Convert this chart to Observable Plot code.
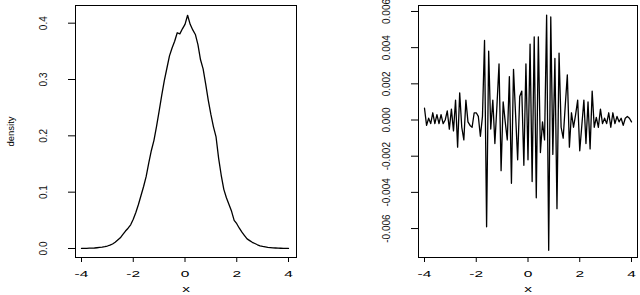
<!DOCTYPE html>
<html>
<head>
<meta charset="utf-8">
<script src="https://cdn.jsdelivr.net/npm/d3@7"></script>
<script src="https://cdn.jsdelivr.net/npm/@observablehq/plot@0.6"></script>
<style>
  html, body { margin: 0; padding: 0; background: #fff; }
  #wrap { display: flex; width: 640px; height: 295px; overflow: hidden; }
</style>
</head>
<body>
<div id="wrap"></div>
<script>
// ---- data ----
const densityX = [-4,-3.9,-3.8,-3.7,-3.6,-3.5,-3.4,-3.3,-3.2,-3.1,-3,-2.9,-2.8,-2.7,-2.6,-2.5,-2.4,-2.3,-2.2,-2.1,-2,-1.9,-1.8,-1.7,-1.6,-1.5,-1.4,-1.3,-1.2,-1.1,-1,-0.9,-0.8,-0.7,-0.6,-0.5,-0.4,-0.3,-0.2,-0.1,0,0.1,0.2,0.3,0.4,0.5,0.6,0.7,0.8,0.9,1,1.1,1.2,1.3,1.4,1.5,1.6,1.7,1.8,1.9,2,2.1,2.2,2.3,2.4,2.5,2.6,2.7,2.8,2.9,3,3.1,3.2,3.3,3.4,3.5,3.6,3.7,3.8,3.9,4];
const densityY = [0.0002,0.0002,0.0003,0.0005,0.0007,0.0009,0.0013,0.0018,0.0024,0.0032,0.0044,0.0060,0.0080,0.0110,0.0150,0.0190,0.0250,0.0310,0.0360,0.0420,0.0520,0.0640,0.0780,0.0940,0.1100,0.1280,0.1520,0.1740,0.1920,0.2170,0.2440,0.2720,0.2980,0.3200,0.3420,0.3560,0.3680,0.3830,0.3810,0.3900,0.3980,0.4140,0.3980,0.3880,0.3800,0.3620,0.3350,0.3190,0.2920,0.2630,0.2380,0.2160,0.1980,0.1600,0.1300,0.1050,0.0900,0.0780,0.0660,0.0500,0.0440,0.0360,0.0290,0.0230,0.0170,0.0140,0.0110,0.0088,0.0066,0.0048,0.0036,0.0028,0.0021,0.0016,0.0012,0.0009,0.0006,0.0004,0.0003,0.0002,0.0001];

const diffX = [-4,-3.92,-3.84,-3.76,-3.68,-3.6,-3.52,-3.44,-3.36,-3.28,-3.2,-3.12,-3.04,-2.96,-2.88,-2.8,-2.72,-2.64,-2.56,-2.48,-2.4,-2.32,-2.24,-2.16,-2.08,-2,-1.92,-1.84,-1.76,-1.68,-1.6,-1.52,-1.44,-1.36,-1.28,-1.2,-1.12,-1.04,-0.96,-0.88,-0.8,-0.72,-0.64,-0.56,-0.48,-0.4,-0.32,-0.24,-0.16,-0.08,0,0.08,0.16,0.24,0.32,0.4,0.48,0.56,0.64,0.72,0.8,0.88,0.96,1.04,1.12,1.2,1.28,1.36,1.44,1.52,1.6,1.68,1.76,1.84,1.92,2,2.08,2.16,2.24,2.32,2.4,2.48,2.56,2.64,2.72,2.8,2.88,2.96,3.04,3.12,3.2,3.28,3.36,3.44,3.52,3.6,3.68,3.76,3.84,3.92,4];
const diffY = [0.00065,-0.0003,0.0001,-0.0002,0.0004,-0.0002,0.0003,-0.0002,0.0003,-0.0002,
  0.0000,0.0005,-0.0005,0.0006,-0.0006,0.0011,-0.0015,0.0015,-0.0004,-0.0011,
  0.0011,-0.0001,-0.0003,-0.0004,0.0004,0.0004,0.0002,-0.0009,0.0002,0.0044,
  -0.0059,0.0038,-0.0005,0.0011,-0.0013,0.0008,0.0031,-0.0028,0.0010,-0.0001,
  -0.0011,0.0024,-0.0035,0.0028,0.0003,-0.0022,0.0013,0.0016,-0.0025,0.0031,
  -0.0022,0.0042,-0.0034,0.0046,-0.0043,0.0046,-0.0018,-0.0001,-0.0011,0.0058,
  -0.0072,0.0057,-0.0019,0.0034,-0.0049,0.0037,-0.0004,-0.0010,0.0008,0.0025,
  -0.0015,0.0004,-0.0004,0.0003,0.0011,-0.0017,-0.0003,0.0011,-0.0013,0.0010,
  -0.0016,0.0016,-0.0004,0.00015,-0.0004,0.0006,-0.0002,0.0001,-0.0002,0.0004,
  -0.0004,0.0004,-0.0002,0.0002,-0.0001,0.0001,-0.0003,0.0001,0.0002,0.0001,
  -0.0001];

const xTicks = [-4, -2, 0, 2, 4];
const densityTicks = [0, 0.1, 0.2, 0.3, 0.4];
const diffTicks = [-0.006, -0.004, -0.002, 0, 0.002, 0.004, 0.006];
const xLabel = "x";
const densityLabel = "density";

const font = "'Liberation Sans', Arial, Helvetica, sans-serif";

function panel({xs, ys, yTicks, yFmt, xDomain, yDomain, marginLeft, marginRight, ylabel}) {
  const data = xs.map((x, i) => ({x, y: ys[i]}));
  const marks = [
    Plot.axisX({ticks: xTicks, tickSize: 5, tickPadding: 8, tickFormat: d => String(d), label: null}),
    Plot.axisY({ticks: yTicks, tickSize: 7, tickFormat: () => "", label: null}),
    Plot.text(yTicks, {y: d => d, frameAnchor: "left", dx: -32, rotate: -90, text: yFmt,
      textAnchor: "middle", lineAnchor: "middle", fill: "#111"}),
    Plot.text([xLabel], {frameAnchor: "bottom", dy: 32, text: d => d, lineAnchor: "middle"}),
    Plot.line(data, {x: "x", y: "y", stroke: "black", strokeWidth: 1.3}),
    Plot.frame({stroke: "black", strokeWidth: 1})
  ];
  if (ylabel) marks.push(Plot.text([ylabel], {frameAnchor: "left", dx: -64.5, rotate: -90,
    text: d => d, textAnchor: "middle", lineAnchor: "middle", fontSize: 9.5}));
  return Plot.plot({
    width: 320, height: 295,
    marginTop: 5, marginBottom: 38, marginLeft, marginRight,
    x: {domain: xDomain, label: null},
    y: {domain: yDomain, label: null},
    style: {fontFamily: font, fontSize: "10px", background: "white", color: "black"},
    marks
  });
}

// widen the horizontal labels (x ticks and x title) like the reference
function stretchHorizontal(svg) {
  svg.querySelectorAll("text").forEach(t => {
    const tr = t.getAttribute("transform") || "";
    if (tr.includes("rotate")) return;
    const g = t.closest("g");
    const lab = g ? g.getAttribute("aria-label") : "";
    const isXTick = lab === "x-axis tick label";
    const isXLabel = t.textContent === xLabel;
    if (!(isXTick || isXLabel)) return;
    const x = parseFloat(t.getAttribute("x")) || 0;
    const y = parseFloat(t.getAttribute("y")) || 0;
    t.setAttribute("transform", `${tr} translate(${x},${y}) scale(1.55,0.85) translate(${-x},${-y})`.trim());
  });
}

const fmt3 = d => (d < 0 ? "-" : "") + Math.abs(d).toFixed(3);
const fmt1 = d => d.toFixed(1);

const wrap = document.getElementById("wrap");
const left = panel({
  xs: densityX, ys: densityY, yTicks: densityTicks, yFmt: fmt1,
  xDomain: [-4.232, 4.309], yDomain: [-0.016, 0.4314],
  marginLeft: 75, marginRight: 24, ylabel: densityLabel
});
const right = panel({
  xs: diffX, ys: diffY, yTicks: diffTicks, yFmt: fmt3,
  xDomain: [-4.232, 4.232], yDomain: [-0.0076, 0.00633],
  marginLeft: 98, marginRight: 3, ylabel: null
});
wrap.appendChild(left);
wrap.appendChild(right);
stretchHorizontal(left);
stretchHorizontal(right);
</script>
</body>
</html>
